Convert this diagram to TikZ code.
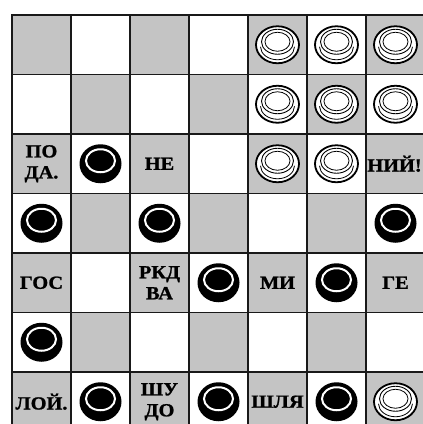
\documentclass[tikz,border=0pt]{standalone}
\usepackage{fontspec}
\setmainfont{Liberation Serif}
\newfontfamily\wordfont{Liberation Serif}[FakeStretch=1.1, FakeBold=1.2]
\definecolor{boardgray}{RGB}{196,196,196}
\tikzset{
  cell/.style={minimum width=59pt, minimum height=59.5pt, inner sep=0pt, outer sep=0pt, draw=black!90, line width=1.8pt},
  darkcell/.style={cell, fill=boardgray},
  lightcell/.style={cell, fill=white},
  word/.style={font=\wordfont\bfseries\fontsize{18.5}{21}\selectfont, align=center, inner sep=0pt, text=black},
  blackpc/.pic={
    \fill[black] (0,0) ellipse [x radius=21, y radius=19.5];
    \draw[white, line width=2pt] (0,-3) ellipse [x radius=14.5, y radius=11.5];
  },
  whitepc/.pic={
    \draw[line width=1.8pt, fill=white] (0,0) ellipse [x radius=21.5, y radius=18.5];
    \draw[line width=0.9pt] (0,-3) ellipse [x radius=16, y radius=12.5];
    \draw[line width=0.8pt] (0,-3) ellipse [x radius=12.5, y radius=9.5];
    \draw[line width=0.8pt] (17,2) arc [start angle=0, end angle=180, x radius=17, y radius=13];
  }
}
\begin{document}
\begin{tikzpicture}[x=1pt, y=-1pt]
\useasboundingbox (0,0) rectangle (423,424);
\fill[white] (0,0) rectangle (423,424);
\clip (0,0) rectangle (423,424);
\foreach \r in {0,...,6} {
  \foreach \c in {0,...,6} {
    \pgfmathtruncatemacro\parity{mod(\r+\c,2)}
    \ifnum\parity=0
      \node[darkcell] (c\r\c) at ({41.5+59*\c},{44.75+59.5*\r}) {};
    \else
      \node[lightcell] (c\r\c) at ({41.5+59*\c},{44.75+59.5*\r}) {};
    \fi
  }
}
% white pieces
\foreach \p in {c04,c05,c06,c14,c15,c16,c24,c25,c66} {
  \pic at (\p) {whitepc};
}
% black pieces
\foreach \p in {c21,c30,c32,c36,c43,c45,c50,c61,c63,c65} {
  \pic at (\p) {blackpc};
}
% syllables
\node[word] (w1) at (c20) {ПО\\ДА.};
\node[word] (w2) at (c22) {НЕ};
\node[word] (w3) at ([xshift=-1pt]c26) {НИЙ!};
\node[word] (w4) at (c40) {ГОС};
\node[word] (w5) at (c42) {РКД\\ВА};
\node[word] (w6) at (c44) {МИ};
\node[word] (w7) at (c46) {ГЕ};
\node[word] (w8) at (c60) {ЛОЙ.};
\node[word] (w9) at (c62) {ШУ\\ДО};
\node[word] (w10) at (c64) {ШЛЯ};
\end{tikzpicture}
\end{document}
